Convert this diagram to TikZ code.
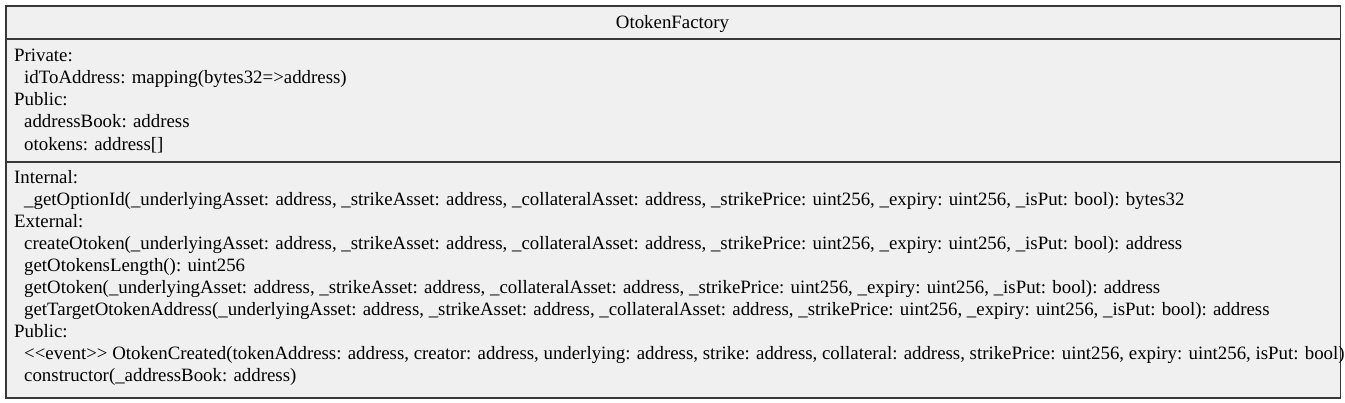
\documentclass[tikz,border=0pt]{standalone}
\usepackage{fontspec}
\setmainfont{Liberation Serif}
\begin{document}
\begin{tikzpicture}[x=1pt,y=-1pt,
  boxline/.style={draw=black!78,line width=1.4pt},
  txt/.style={anchor=base west,inner sep=0pt,font=\fontsize{18.85}{22}\selectfont},
  ttl/.style={anchor=base,inner sep=0pt,font=\fontsize{18.85}{22}\selectfont}]
\useasboundingbox (0,0) rectangle (1345,403);
\node[boxline,fill=black!6,minimum width=1334.5pt,minimum height=392pt,inner sep=0pt,anchor=north west] (box) at (5.2,5.5) {};
\draw[boxline] (box.west |- 0,39) -- (box.east |- 0,39);
\draw[boxline] (box.west |- 0,162) -- (box.east |- 0,162);
\node[ttl] (title) at (672.5,28.3) {OtokenFactory};
% attributes
\node[txt] (a1) at (14,61.7) {Private:};
\node[txt] (a2) at (24,83.8) {idToAddress: mapping(bytes32=>address)};
\node[txt] (a3) at (14,105.9) {Public:};
\node[txt] (a4) at (24,128) {addressBook: address};
\node[txt] (a5) at (24,150.1) {otokens: address[]};
% operations
\node[txt] (o1) at (14,183.5) {Internal:};
\node[txt] (o2) at (24,205.45) {\_getOptionId(\_underlyingAsset: address, \_strikeAsset: address, \_collateralAsset: address, \_strikePrice: uint256, \_expiry: uint256, \_isPut: bool): bytes32};
\node[txt] (o3) at (14,227.4) {External:};
\node[txt] (o4) at (24,249.35) {createOtoken(\_underlyingAsset: address, \_strikeAsset: address, \_collateralAsset: address, \_strikePrice: uint256, \_expiry: uint256, \_isPut: bool): address};
\node[txt] (o5) at (24,271.3) {getOtokensLength(): uint256};
\node[txt] (o6) at (24,293.25) {getOtoken(\_underlyingAsset: address, \_strikeAsset: address, \_collateralAsset: address, \_strikePrice: uint256, \_expiry: uint256, \_isPut: bool): address};
\node[txt] (o7) at (24,315.2) {getTargetOtokenAddress(\_underlyingAsset: address, \_strikeAsset: address, \_collateralAsset: address, \_strikePrice: uint256, \_expiry: uint256, \_isPut: bool): address};
\node[txt] (o8) at (14,337.15) {Public:};
\node[txt] (o9) at (24,359.1) {<{}<event>{}> OtokenCreated(tokenAddress: address, creator: address, underlying: address, strike: address, collateral: address, strikePrice: uint256, expiry: uint256, isPut: bool)};
\node[txt] (o10) at (24,381.05) {constructor(\_addressBook: address)};
\end{tikzpicture}
\end{document}
